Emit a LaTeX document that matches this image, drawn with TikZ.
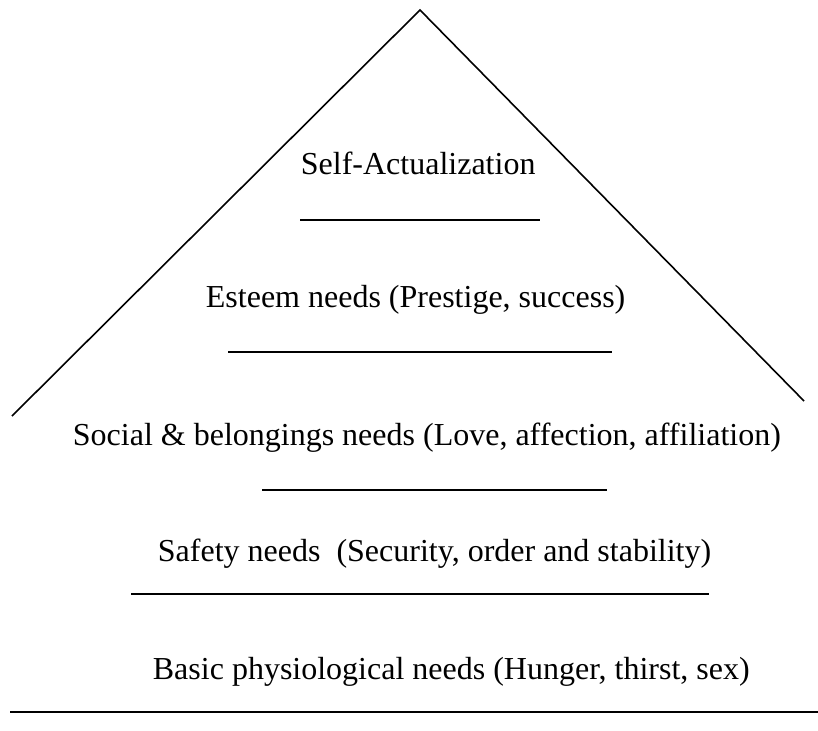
\documentclass[tikz,border=0pt]{standalone}
\usepackage{fontspec}
\setmainfont{Liberation Serif}

\begin{document}
\begin{tikzpicture}[
		x=1pt, y=-1pt,
		line width=1.8pt,
		level/.style={anchor=base west, inner sep=0pt, font=\fontsize{32}{38}\selectfont}
	]
		\useasboundingbox (0, 0) rectangle (818, 730);

		% Pyramid
		\coordinate (top) at (420, 10);
		\coordinate (left) at (12, 416);
		\coordinate (right) at (804, 401);
		\draw[line width=1.6pt] (left) -- (top) -- (right);

		% Levels
		\node[level] (self) at (300, 175) {Self-Actualization};
		\node[level] (esteem) at (205, 307) {Esteem needs (Prestige, success)};
		\node[level] (social) at (72, 445) {Social \& belongings needs (Love, affection, affiliation)};
		\node[level] (safety) at (157, 561) {Safety needs\ \ (Security, order and stability)};
		\node[level] (basic) at (152, 679) {Basic physiological needs (Hunger, thirst, sex)};

		% Separators
		\foreach \name/\xa/\xb/\y in {s1/300/540/220, s2/228/612/352, s3/262/607/490, s4/131/709/594, s5/10/818/712} {
			\coordinate (\name a) at (\xa, \y);
			\coordinate (\name b) at (\xb, \y);
			\draw (\name a) -- (\name b);
		}
	\end{tikzpicture}
\end{document}
